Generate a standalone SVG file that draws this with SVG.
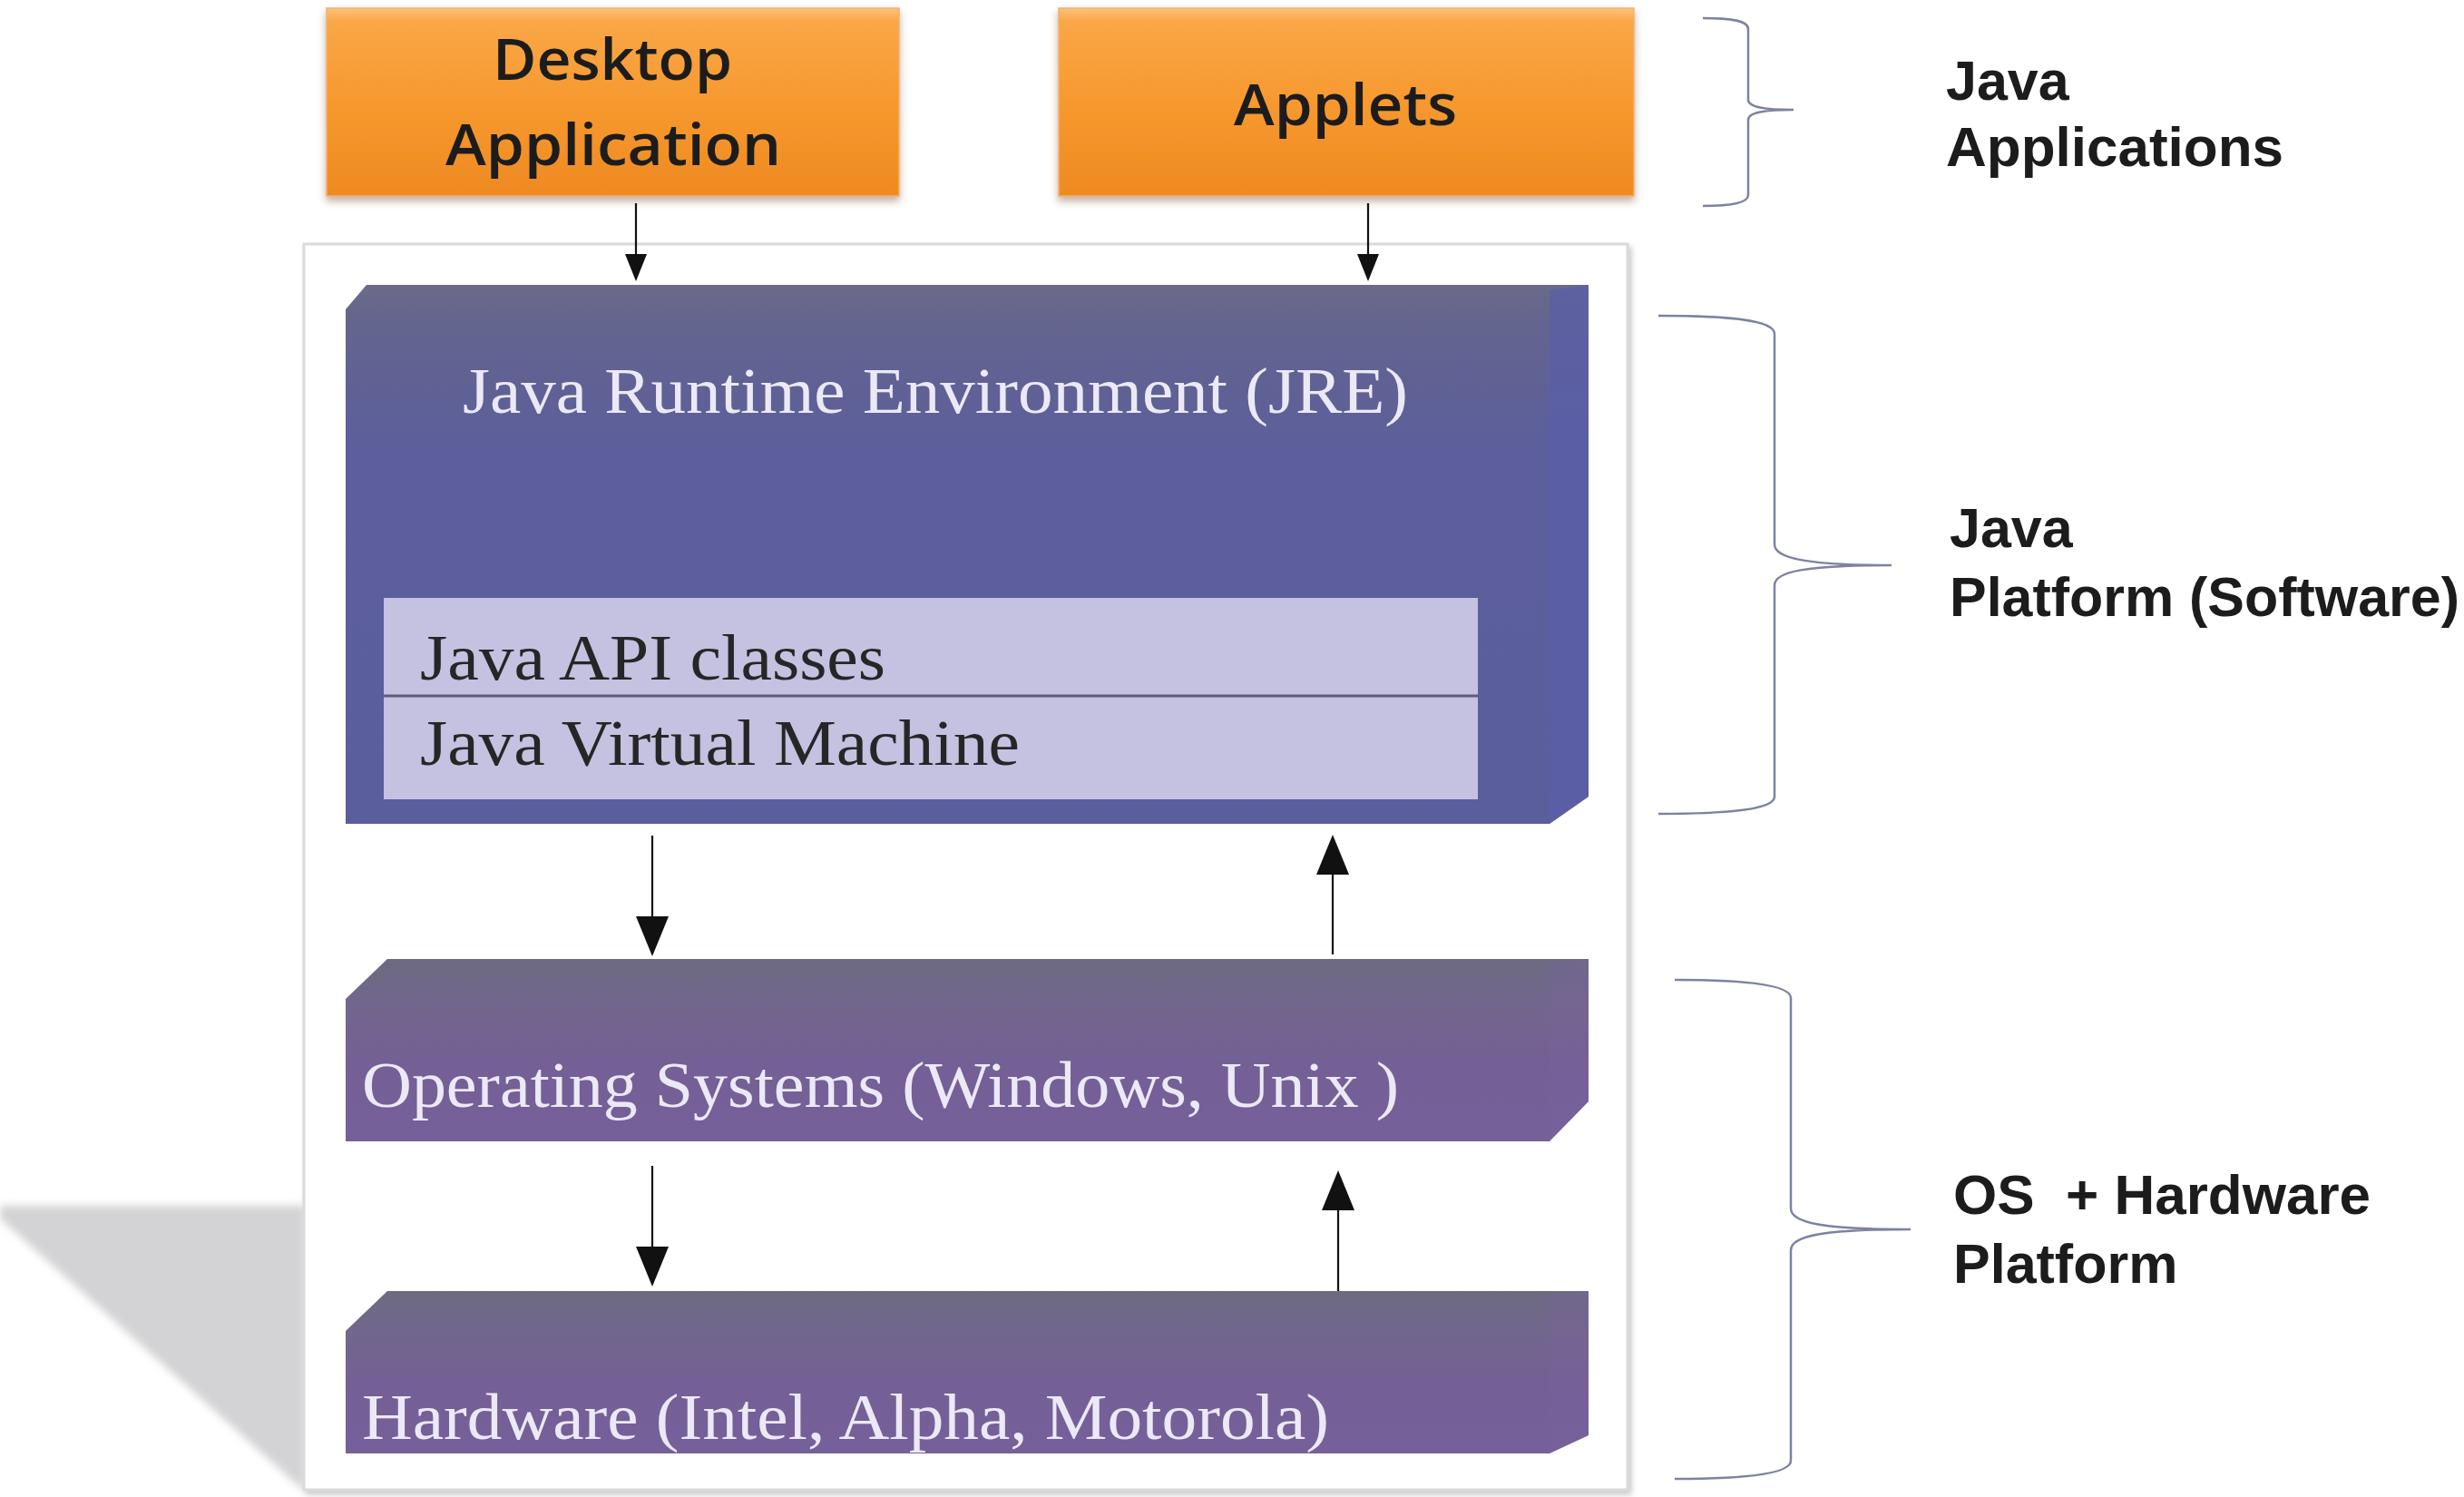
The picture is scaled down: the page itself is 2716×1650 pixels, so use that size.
<svg xmlns="http://www.w3.org/2000/svg" width="2716" height="1650" viewBox="0 0 2716 1650">
<style>
.serif{font-family:"Liberation Serif","Times New Roman",serif;font-size:72px}
.lbl{font-family:"Liberation Sans",Arial,sans-serif;font-weight:bold;font-size:61px;fill:#1c1c1c;white-space:pre}
.app{font-family:"Open Sans","Liberation Sans",sans-serif;font-weight:600;font-size:64px;fill:#1c1c1c;text-anchor:middle}
.brace{fill:none;stroke:#7d82a2;stroke-width:2.5}
.conn{stroke:#111;stroke-width:2.2;fill:none}
.light{fill:#ece9f6}
.dark{fill:#262626}
</style>
<defs>
<linearGradient id="gOrange" x1="0" y1="0" x2="0" y2="1">
<stop offset="0" stop-color="#fcc27c"/>
<stop offset="0.07" stop-color="#f9a747"/>
<stop offset="0.5" stop-color="#f7992f"/>
<stop offset="1" stop-color="#ee8a22"/>
</linearGradient>
<linearGradient id="gJre" x1="0" y1="0" x2="0" y2="1">
<stop offset="0" stop-color="#6b6a88"/>
<stop offset="0.08" stop-color="#63648f"/>
<stop offset="0.3" stop-color="#5c5f9b"/>
<stop offset="1" stop-color="#5b5e9d"/>
</linearGradient>
<linearGradient id="gOs" x1="0" y1="0" x2="0" y2="1">
<stop offset="0" stop-color="#6d6a82"/>
<stop offset="0.25" stop-color="#71668c"/>
<stop offset="0.6" stop-color="#745f96"/>
<stop offset="1" stop-color="#75609a"/>
</linearGradient>
<filter id="shOrange" x="-5%" y="-5%" width="110%" height="120%">
<feDropShadow dx="0" dy="5" stdDeviation="4" flood-color="#7a4a20" flood-opacity="0.45"/>
</filter>
<filter id="shBox" x="-5%" y="-5%" width="110%" height="110%">
<feDropShadow dx="3" dy="4" stdDeviation="3" flood-color="#888" flood-opacity="0.45"/>
</filter>
<filter id="blur" x="-10%" y="-10%" width="120%" height="120%">
<feGaussianBlur stdDeviation="5"/>
</filter>
<marker id="ahS" markerUnits="userSpaceOnUse" markerWidth="30" markerHeight="24" viewBox="0 0 30 24" refX="0" refY="12" orient="auto">
<path d="M0,0 L30,12 L0,24 Z" fill="#111"/>
</marker>
<marker id="ahL" markerUnits="userSpaceOnUse" markerWidth="44" markerHeight="36" viewBox="0 0 44 36" refX="0" refY="18" orient="auto">
<path d="M0,0 L44,18 L0,36 Z" fill="#111"/>
</marker>
</defs>
<rect width="2716" height="1650" fill="#ffffff"/>
<polygon points="0,1329 336,1329 336,1644 0,1343" fill="#d3d2d4" filter="url(#blur)"/>
<g id="container">
<rect x="335" y="269" width="1459" height="1373" fill="#ffffff" stroke="#dadada" stroke-width="3" filter="url(#shBox)"/>
</g>
<g id="desktop">
<rect x="360" y="9" width="631" height="207" fill="url(#gOrange)" stroke="#f2b070" stroke-width="1.5" filter="url(#shOrange)"/>
<text class="app" x="675" y="88" textLength="264" lengthAdjust="spacingAndGlyphs">Desktop</text>
<text class="app" x="676" y="182" textLength="370" lengthAdjust="spacingAndGlyphs">Application</text>
</g>
<g id="applets">
<rect x="1167" y="9" width="634" height="207" fill="url(#gOrange)" stroke="#f2b070" stroke-width="1.5" filter="url(#shOrange)"/>
<text class="app" x="1483" y="138" textLength="246" lengthAdjust="spacingAndGlyphs">Applets</text>
</g>
<g id="jre">
<path d="M381,341 L404,314 L1751,314 L1751,878 L1708,908 L381,908 Z" fill="url(#gJre)"/>
<path d="M1708,320 L1751,314 L1751,878 L1708,908 Z" fill="#5a5ea8" opacity="0.7"/>
<text class="serif light" x="510" y="455" textLength="1042" lengthAdjust="spacingAndGlyphs">Java Runtime Environment (JRE)</text>
</g>
<g id="jre-inner">
<rect x="423" y="659" width="1206" height="222" fill="#c4c1e1"/>
<line x1="423" y1="767" x2="1629" y2="767" stroke="#5e5c78" stroke-width="3"/>
<text class="serif dark" x="463" y="749" textLength="513" lengthAdjust="spacingAndGlyphs">Java API classes</text>
<text class="serif dark" x="463" y="843" textLength="661" lengthAdjust="spacingAndGlyphs">Java Virtual Machine</text>
</g>
<g id="os">
<path d="M381,1101 L427,1057 L1751,1057 L1751,1214 L1708,1258 L381,1258 Z" fill="url(#gOs)"/>
<path d="M1708,1062 L1751,1057 L1751,1214 L1708,1258 Z" fill="#7a62a0" opacity="0.3"/>
<text class="serif light" x="399" y="1220" textLength="1143" lengthAdjust="spacingAndGlyphs">Operating Systems (Windows, Unix )</text>
</g>
<g id="hardware">
<path d="M381,1467 L427,1423 L1751,1423 L1751,1582 L1708,1602 L381,1602 Z" fill="url(#gOs)"/>
<path d="M1708,1428 L1751,1423 L1751,1582 L1708,1602 Z" fill="#7a62a0" opacity="0.3"/>
<text class="serif light" x="399" y="1586" textLength="1066" lengthAdjust="spacingAndGlyphs">Hardware (Intel, Alpha, Motorola)</text>
</g>
<g id="connectors">
<line class="conn" x1="701" y1="224" x2="701" y2="280" marker-end="url(#ahS)"/>
<line class="conn" x1="1508" y1="224" x2="1508" y2="280" marker-end="url(#ahS)"/>
<line class="conn" x1="719" y1="921" x2="719" y2="1010" marker-end="url(#ahL)"/>
<line class="conn" x1="1469" y1="1052" x2="1469" y2="964" marker-end="url(#ahL)"/>
<line class="conn" x1="719" y1="1285" x2="719" y2="1374" marker-end="url(#ahL)"/>
<line class="conn" x1="1475" y1="1423" x2="1475" y2="1334" marker-end="url(#ahL)"/>
</g>
<g id="braces">
<path class="brace" d="M1877,20 C1905,20 1927,22 1927,32 L1927,110 C1927,118 1945,121 1977,121 C1945,121 1927,124 1927,132 L1927,215 C1927,224 1905,227 1877,227"/>
<path class="brace" d="M1828,348 C1900,348 1956,352 1956,368 L1956,600 C1956,615 1990,623 2085,623 C1990,623 1956,630 1956,645 L1956,878 C1956,893 1900,897 1828,897"/>
<path class="brace" d="M1846,1080 C1920,1080 1974,1085 1974,1100 L1974,1332 C1974,1348 2010,1355 2106,1355 C2010,1355 1974,1362 1974,1378 L1974,1610 C1974,1625 1920,1630 1846,1630"/>
</g>
<g id="label-apps">
<text class="lbl" x="2145" y="110">Java</text>
<text class="lbl" x="2145" y="183" textLength="372" lengthAdjust="spacingAndGlyphs">Applications</text>
</g>
<g id="label-platform">
<text class="lbl" x="2149" y="603">Java</text>
<text class="lbl" x="2149" y="679" textLength="562" lengthAdjust="spacingAndGlyphs">Platform (Software)</text>
</g>
<g id="label-os">
<text class="lbl" x="2153" y="1338" textLength="460" lengthAdjust="spacingAndGlyphs">OS  + Hardware</text>
<text class="lbl" x="2153" y="1414">Platform</text>
</g>
</svg>
